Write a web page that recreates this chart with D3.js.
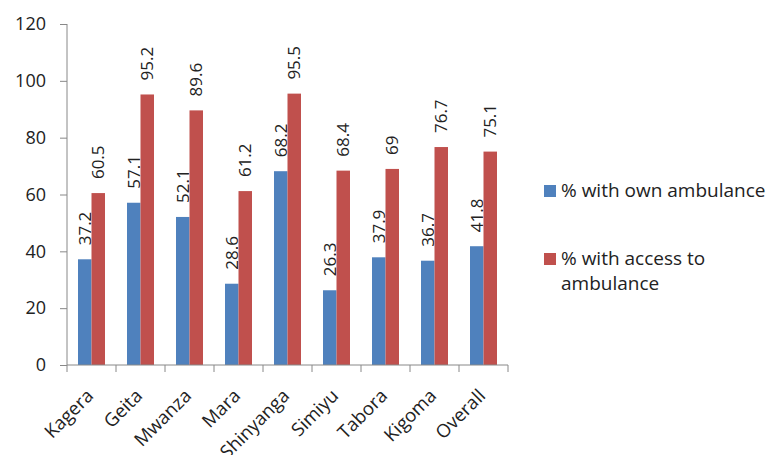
<html>
<head>
<script src="https://cdn.jsdelivr.net/npm/d3@7"></script>
<style>
  body { margin: 0; background: #fff; }
  text { font-family: "Open Sans", sans-serif; fill: #222; }
</style>
</head>
<body>
<div id="chart"></div>
<script>
  regions = ["Kagera", "Geita", "Mwanza", "Mara", "Shinyanga", "Simiyu", "Tabora", "Kigoma", "Overall"]
  ownAmbulance = [37.2, 57.1, 52.1, 28.6, 68.2, 26.3, 37.9, 36.7, 41.8]
  accessAmbulance = [60.5, 95.2, 89.6, 61.2, 95.5, 68.4, 69, 76.7, 75.1]
  yTicks = [0, 20, 40, 60, 80, 100, 120]
  seriesNames = ["% with own ambulance", "% with access to ambulance"]
  colors = ["#4f81bd", "#c0504d"]

  const width = 768, height = 455
  const plotLeft = 67, plotRight = 508, plotTop = 24, plotBottom = 365

  const svg = d3.select("#chart").append("svg")
    .attr("width", width).attr("height", height)

  const x = d3.scaleBand().domain(regions).range([plotLeft, plotRight])
  const inner = d3.scaleBand().domain([0, 1]).range([0, 27])
  const y = d3.scaleLinear().domain([0, 120]).range([plotBottom, plotTop])

  const series = [ownAmbulance, accessAmbulance]
  const offset = (x.bandwidth() - 27) / 2

  // bars + rotated value labels
  series.forEach((vals, s) => {
    svg.append("g").selectAll("rect")
      .data(vals)
      .join("rect")
      .attr("x", (d, i) => x(regions[i]) + offset + inner(s))
      .attr("width", inner.bandwidth())
      .attr("y", d => y(d))
      .attr("height", d => y(0) - y(d))
      .attr("fill", colors[s])

    svg.append("g").selectAll("text")
      .data(vals)
      .join("text")
      .attr("transform", (d, i) => `translate(${x(regions[i]) + offset + inner(s) + inner.bandwidth() / 2 + 6},${y(d) - 14}) rotate(-90)`)
      .attr("font-size", 17)
      .text(d => d)
  })

  // y axis
  const yAxis = svg.append("g")
    .attr("transform", `translate(${plotLeft},0)`)
    .call(d3.axisLeft(y).tickValues(yTicks).tickSize(7).tickPadding(14))
  yAxis.select(".domain").attr("stroke", "#888").attr("d", `M0,${plotTop}V${plotBottom}`)
  yAxis.selectAll(".tick line").attr("stroke", "#888")
  yAxis.selectAll(".tick text").attr("font-size", 18).attr("font-family", "Open Sans").attr("fill", "#222")

  // x axis
  const xAxis = svg.append("g")
    .attr("transform", `translate(0,${plotBottom})`)
  xAxis.append("path").attr("stroke", "#888").attr("d", `M${plotLeft},0H${plotRight}`)
  xAxis.selectAll("line")
    .data(regions.concat([null]))
    .join("line")
    .attr("x1", (d, i) => plotLeft + i * x.step())
    .attr("x2", (d, i) => plotLeft + i * x.step())
    .attr("y1", 0).attr("y2", 7)
    .attr("stroke", "#888")
  xAxis.selectAll("text")
    .data(regions)
    .join("text")
    .attr("text-anchor", "end")
    .attr("font-size", 18.5)
    .attr("transform", d => `translate(${x(d) + x.bandwidth() / 2 + 3},${32}) rotate(-45)`)
    .text(d => d)

  // legend
  const legend = svg.append("g")
  legend.append("rect").attr("x", 544).attr("y", 185).attr("width", 12).attr("height", 12).attr("fill", colors[0])
  legend.append("text").attr("x", 561).attr("y", 197).attr("font-size", 19).text(seriesNames[0])
  legend.append("rect").attr("x", 544).attr("y", 253).attr("width", 12).attr("height", 12).attr("fill", colors[1])
  legend.append("text").attr("x", 561).attr("y", 265).attr("font-size", 19).text("% with access to")
  legend.append("text").attr("x", 561).attr("y", 290).attr("font-size", 19).text("ambulance")
</script>
</body>
</html>
